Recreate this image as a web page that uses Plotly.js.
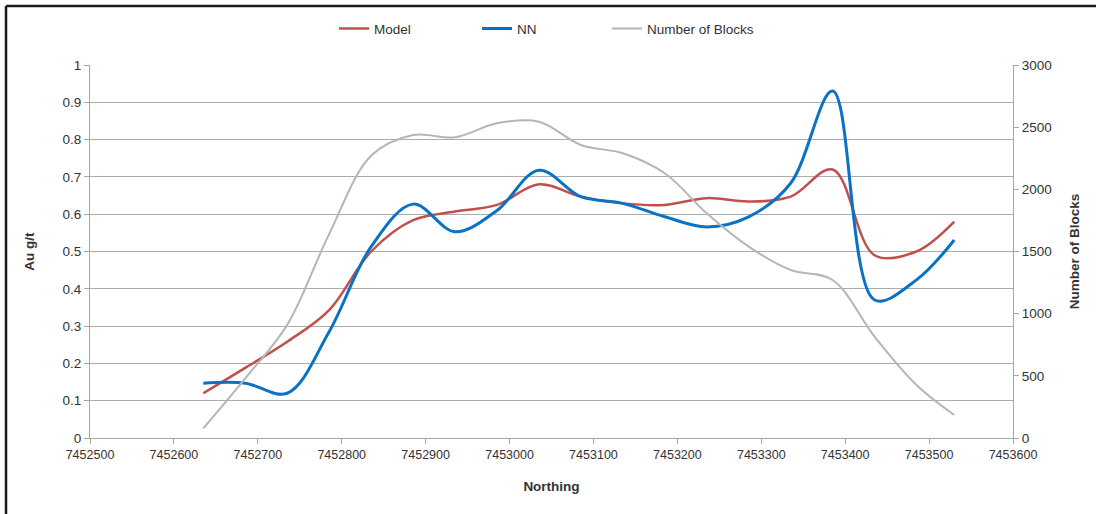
<!DOCTYPE html>
<html>
<head>
<meta charset="utf-8">
<script src="https://cdn.plot.ly/plotly-3.0.1.min.js"></script>
<style>
html,body{margin:0;padding:0;background:#fff;}
#chart{width:1096px;height:514px;}
</style>
</head>
<body>
<div id="chart"></div>
<script>
const northing = [7452635, 7452685, 7452735, 7452785, 7452835, 7452885, 7452935, 7452985, 7453035, 7453085, 7453135, 7453185, 7453235, 7453285, 7453335, 7453385, 7453435, 7453485, 7453530];
const model = [0.12, 0.188, 0.258, 0.343, 0.50, 0.584, 0.607, 0.625, 0.68, 0.647, 0.629, 0.625, 0.643, 0.634, 0.647, 0.72, 0.49, 0.50, 0.58];
const nn = [0.147, 0.147, 0.12, 0.285, 0.513, 0.627, 0.553, 0.61, 0.718, 0.647, 0.629, 0.593, 0.566, 0.593, 0.683, 0.93, 0.37, 0.424, 0.531];
const blocks = [78, 480, 910, 1640, 2270, 2437, 2418, 2531, 2544, 2357, 2290, 2129, 1807, 1539, 1351, 1271, 815, 426, 185];
const xTicks = [7452500, 7452600, 7452700, 7452800, 7452900, 7453000, 7453100, 7453200, 7453300, 7453400, 7453500, 7453600];

const FONT = '"Liberation Sans Narrow", "Arial Narrow", Arial, sans-serif';
const TXT = '#333333';

const traces = [
  {x: northing, y: model, name: 'Model', type: 'scatter', mode: 'lines', legend: 'legend',
   line: {color: '#c0504d', width: 2.5, shape: 'spline', smoothing: 1}},
  {x: northing, y: nn, name: 'NN', type: 'scatter', mode: 'lines', legend: 'legend2',
   line: {color: '#0a72c6', width: 3, shape: 'spline', smoothing: 1}},
  {x: northing, y: blocks, name: 'Number of Blocks', type: 'scatter', mode: 'lines', yaxis: 'y2', legend: 'legend3',
   line: {color: '#b5b5b5', width: 2, shape: 'spline', smoothing: 1}}
];

function leg(x) {
  return {orientation: 'h', x: x, xanchor: 'left', y: 1.097, yanchor: 'middle',
          font: {family: FONT, size: 13.5, color: TXT}, itemwidth: 30, bgcolor: 'rgba(0,0,0,0)'};
}

const layout = {
  width: 1096, height: 514,
  margin: {l: 90, r: 83, t: 65, b: 76},
  paper_bgcolor: '#fff', plot_bgcolor: '#fff',
  font: {family: FONT, size: 13, color: TXT},
  showlegend: true,
  legend: leg(0.2644),
  legend2: leg(0.4193),
  legend3: leg(0.5601),
  xaxis: {range: [7452500, 7453600], tickmode: 'array', tickvals: xTicks,
          ticktext: xTicks.map(String), showgrid: false, zeroline: false,
          showline: true, linecolor: '#a6a6a6', linewidth: 1,
          ticks: 'outside', ticklen: 5, tickcolor: '#a6a6a6',
          tickfont: {family: FONT, size: 12.5, color: TXT},
          title: {text: '<b>Northing</b>', font: {family: FONT, size: 13.5, color: TXT}, standoff: 20}},
  yaxis: {range: [0, 1], dtick: 0.1, tick0: 0, showgrid: true, gridcolor: '#acacac', gridwidth: 1,
          zeroline: false, showline: true, linecolor: '#a6a6a6', linewidth: 1,
          ticks: 'outside', ticklen: 5, tickcolor: '#a6a6a6',
          tickfont: {family: FONT, size: 13.5, color: TXT},
          title: {text: '<b>Au g/t</b>', font: {family: FONT, size: 13.5, color: TXT}, standoff: 24}},
  yaxis2: {range: [0, 3000], dtick: 500, tick0: 0, overlaying: 'y', side: 'right',
           showgrid: false, zeroline: false, showline: true, linecolor: '#a6a6a6', linewidth: 1,
           ticks: 'outside', ticklen: 5, tickcolor: '#a6a6a6',
           tickfont: {family: FONT, size: 13.5, color: TXT},
           title: {text: '<b>Number of Blocks</b>', font: {family: FONT, size: 13.5, color: TXT}, standoff: 18}},
  shapes: [
    {type: 'line', xref: 'paper', yref: 'paper', x0: -0.091, x1: -0.091, y0: 1.158, y1: -0.3,
     line: {color: '#1a1a1a', width: 2.5}},
    {type: 'line', xref: 'paper', yref: 'paper', x0: -0.091, x1: 1.09, y0: 1.158, y1: 1.158,
     line: {color: '#1a1a1a', width: 2.5}}
  ]
};

Plotly.newPlot('chart', traces, layout, {displayModeBar: false, staticPlot: true});
</script>
</body>
</html>
